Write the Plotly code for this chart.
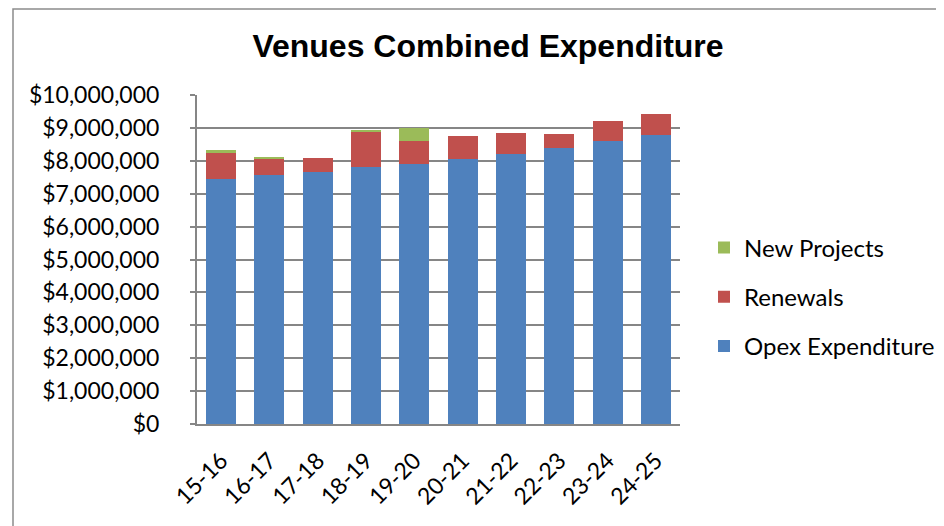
import plotly.graph_objects as go

categories = ["15-16", "16-17", "17-18", "18-19", "19-20", "20-21", "21-22", "22-23", "23-24", "24-25"]
opex = [7440000, 7560000, 7650000, 7800000, 7910000, 8050000, 8200000, 8380000, 8590000, 8780000]
renewals = [800000, 500000, 450000, 1100000, 700000, 690000, 640000, 440000, 620000, 640000]
new_projects = [80000, 60000, 0, 30000, 390000, 0, 0, 0, 0, 0]

W, H = 944, 526
OFF = 8  # page body margin offset
L, R, T, B = 197 - OFF, 680 - OFF, 95 - OFF, 424 - OFF  # plot area pixel box

fig = go.Figure()
fig.add_trace(go.Bar(x=categories, y=opex, name="Opex Expenditure",
                     marker=dict(color="#4F81BD", line=dict(width=0)),
                     legendgroup="a", legendrank=3))
fig.add_trace(go.Bar(x=categories, y=renewals, name="Renewals",
                     marker=dict(color="#C0504D", line=dict(width=0)),
                     legendgroup="b", legendrank=2))
fig.add_trace(go.Bar(x=categories, y=new_projects, name="New Projects",
                     marker=dict(color="#9BBB59", line=dict(width=0)),
                     legendgroup="c", legendrank=1))

font_family = "Lato, 'Open Sans', sans-serif"

def px_x(px):
    return (px - OFF - L) / (R - L)

def px_y(py):
    return (B - (py - OFF)) / (B - T)

fig.update_layout(
    width=W, height=H,
    barmode="stack",
    bargap=0.38,
    plot_bgcolor="white",
    paper_bgcolor="white",
    margin=dict(l=L, r=W - R, t=T, b=H - B, pad=0),
    title=dict(text="<b>Venues Combined Expenditure</b>",
               font=dict(family="'Liberation Sans', Arial, sans-serif", size=32, color="black"),
               x=(488 - OFF) / W, xref="container", xanchor="center",
               y=1 - (46 - OFF) / H, yref="container", yanchor="middle"),
    legend=dict(x=px_x(704), xanchor="left", y=px_y(297), yanchor="middle",
                traceorder="grouped", tracegroupgap=15,
                font=dict(family=font_family, size=24, color="black"),
                bgcolor="rgba(0,0,0,0)"),
    xaxis=dict(tickangle=-45, showgrid=False, showline=True, linecolor="#868686", linewidth=2,
               tickfont=dict(family=font_family, size=23, color="black"),
               ticks="", ticklabelstandoff=12, automargin=False),
    yaxis=dict(range=[0, 10000000], dtick=1000000, tickformat="$,.0f",
               showgrid=True, gridcolor="#868686", gridwidth=1.5,
               showline=True, linecolor="#868686", linewidth=2,
               ticks="outside", ticklen=5, tickcolor="#868686", tickwidth=1.5,
               tickfont=dict(family=font_family, size=23, color="black"),
               ticklabelstandoff=26, zeroline=False, automargin=False),
    shapes=[dict(type="rect", xref="paper", yref="paper",
                 x0=px_x(13), x1=px_x(960), y0=px_y(540), y1=px_y(9),
                 line=dict(color="#8C8C8C", width=1.5), layer="below")],
)

fig.write_html("out.html")
